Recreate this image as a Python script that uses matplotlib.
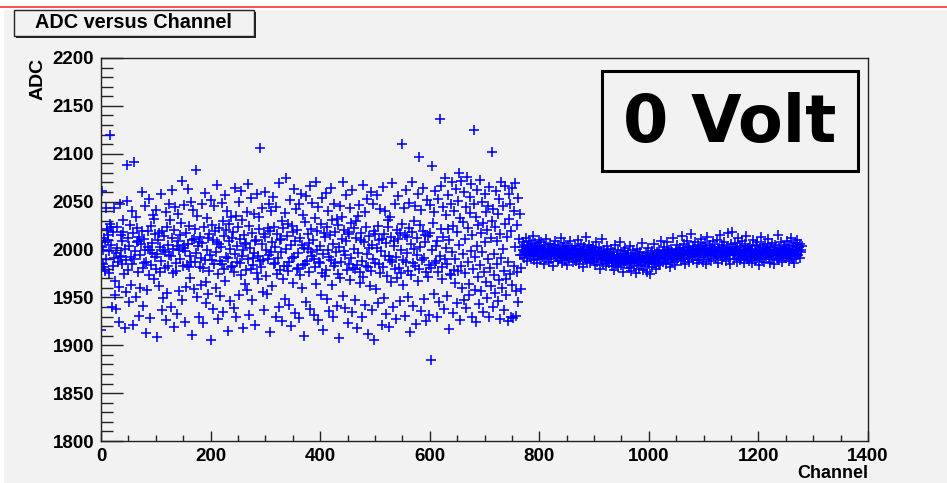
import numpy as np
import matplotlib.pyplot as plt
from matplotlib.patches import Rectangle
from matplotlib.ticker import MultipleLocator

# ADC readout per channel; the first block is the noisy region, the rest is the quiet region
adc_noisy = [
    1916, 2003, 2061, 1985, 2000, 1982, 2012, 2008, 1978, 2043, 1990, 2021, 2015, 2010, 1975, 1998, 2120, 2027, 2024, 2005, 1940, 1983, 2018, 1991,
    2043, 1967, 1952, 1996, 1938, 2024, 2002, 1987, 1924, 1961, 1992, 2047, 2015, 1993, 1985, 2009, 2031, 2018, 1974, 1918, 2001, 1989, 1956, 2051,
    2088, 2012, 1979, 1945, 2004, 2026, 1992, 1963, 2040, 1985, 1921, 2017, 2091, 1990, 1998, 1950, 2034, 2008, 2022, 1977, 2009, 1931, 2013, 1960,
    1994, 2006, 2060, 2019, 1981, 1941, 1986, 2011, 2045, 2000, 1913, 1987, 1958, 2019, 2003, 2053, 1973, 1999, 1928, 2025, 1984, 1996, 2007, 2036,
    2032, 1969, 2016, 1992, 1980, 2041, 1995, 1909, 2010, 2017, 1962, 1976, 2003, 2058, 1988, 1937, 2019, 2000, 1949, 2014, 1981, 1997, 1926, 2039,
    2023, 1955, 1983, 2005, 2048, 1994, 2031, 1940, 1993, 2012, 2062, 1975, 2001, 1919, 2020, 2044, 1978, 1986, 2004, 1933, 2009, 2037, 1999, 1957,
    1990, 2015, 2028, 2072, 1947, 1983, 2002, 2046, 2005, 1998, 1924, 2017, 1961, 1984, 2006, 2063, 1982, 2025, 1970, 1993, 2050, 1987, 1911, 2010,
    2041, 2011, 1959, 1987, 2021, 2083, 1996, 1950, 2035, 2004, 1930, 2008, 1982, 2013, 1963, 1991, 2047, 2007, 1923, 1981, 2024, 2059, 1989, 1944,
    1966, 2000, 2033, 2012, 1954, 1978, 2016, 1994, 1905, 2052, 2026, 1989, 2010, 1938, 1985, 2045, 2019, 1960, 1997, 2008, 2067, 1974, 1927, 2006,
    2022, 1951, 1988, 2003, 2049, 1985, 2030, 1935, 1980, 2014, 2057, 1967, 1992, 2020, 2040, 1915, 1991, 2009, 2027, 1946, 2001, 2034, 1982, 1983,
    2012, 2018, 1939, 1976, 2064, 1995, 2035, 1929, 2004, 1987, 2023, 2050, 1953, 1986, 2011, 2061, 1973, 1993, 2031, 1999, 1918, 2015, 2006, 1964,
    1979, 2007, 2039, 1958, 1990, 2068, 2025, 1932, 2002, 1980, 2054, 1947, 2017, 1984, 1991, 2037, 1996, 2009, 1921, 2010, 1975, 2058, 1993, 1969,
    2034, 2021, 1988, 2106, 1982, 2006, 2043, 1956, 1989, 2016, 1937, 2013, 2060, 1972, 2000, 1954, 2022, 1990, 2048, 1994, 1914, 2019, 2040, 1997,
    1962, 2008, 2055, 1985, 2024, 1986, 2003, 1930, 2044, 2016, 1974, 1991, 2069, 1940, 2010, 1979, 2011, 1997, 1925, 2030, 2022, 1969, 1983, 1948,
    2038, 2001, 2075, 1983, 2014, 1978, 2027, 1942, 1987, 2052, 2005, 1920, 1991, 2025, 2018, 1965, 2063, 1992, 2009, 1934, 2042, 1980, 2020, 1981,
    1996, 2047, 1928, 2012, 1973, 2058, 2005, 1960, 1984, 2036, 1910, 2002, 2029, 1985, 2056, 1945, 1988, 2016, 2001, 1976, 2007, 1938, 2066, 1997,
    2021, 1993, 2049, 2010, 1932, 1990, 2033, 1982, 2071, 1964, 1999, 2019, 1926, 2044, 1987, 2004, 1986, 2027, 1953, 2054, 1975, 1995, 1916, 2017,
    2013, 1972, 2059, 1979, 2023, 1948, 2000, 2040, 1936, 1992, 2015, 2064, 1989, 1963, 2031, 2006, 1930, 1983, 2048, 2018, 1986, 1997, 1941, 2032,
    2026, 1974, 2003, 1908, 2045, 1970, 1987, 2011, 2034, 2070, 1951, 1998, 2020, 1994, 1939, 2057, 2009, 1979, 2018, 1923, 1985, 2016, 2043, 1968,
    1991, 2028, 1935, 2062, 1981, 2001, 2022, 1947, 1980, 2030, 2012, 1918, 1984, 2035, 1996, 2046, 1965, 1977, 2017, 2010, 1929, 1988, 2067, 1971,
    2008, 2039, 1942, 1983, 2024, 1995, 2053, 1912, 1982, 2014, 2002, 1962, 1978, 2060, 2005, 1937, 1990, 2047, 2019, 1905, 1986, 2016, 1959, 2002,
    2057, 2025, 1944, 1985, 2010, 2042, 1975, 1998, 1921, 2011, 2065, 1982, 2016, 1949, 1993, 2040, 2007, 1933, 1972, 2031, 2023, 1993, 1919, 1989,
    2034, 2013, 1966, 2069, 1987, 1940, 2009, 2004, 1980, 2048, 1992, 1927, 2020, 1970, 2056, 2011, 1981, 1946, 2017, 2000, 1975, 2110, 2027, 1963,
    1989, 2043, 2015, 1931, 1987, 2062, 1996, 2013, 1950, 1978, 2022, 2049, 1914, 2006, 1973, 2071, 2018, 1986, 1941, 2001, 2030, 1983, 2045, 1922,
    1994, 2012, 2058, 1967, 1980, 2097, 2026, 2003, 1936, 2041, 1989, 2019, 2064, 1948, 1991, 2008, 2015, 1925, 1976, 2052, 2014, 1971, 1984, 1932,
    2046, 2017, 1981, 1885, 2087, 1999, 2028, 2039, 1954, 1986, 2061, 2004, 1988, 1929, 2009, 1977, 2053, 1945, 2136, 1993, 2021, 2066, 1969, 1982,
    2013, 2044, 1938, 1990, 2075, 2002, 2036, 1951, 1985, 2021, 2057, 1917, 2010, 1974, 2048, 1973, 1997, 2070, 1934, 2025, 1979, 2040, 1965, 1990,
    2063, 2018, 1944, 2051, 1978, 2005, 2080, 1926, 2033, 1983, 2072, 1960, 2029, 1995, 1947, 2060, 2011, 1975, 2044, 1939, 2076, 1987, 2022, 1964,
    1952, 2055, 2038, 1998, 2068, 1930, 2015, 1980, 2125, 2047, 1958, 1992, 2034, 1924, 2062, 2004, 1971, 2026, 1943, 2073, 1984, 2017, 1957, 1997,
    2050, 1935, 2028, 1976, 2058, 2008, 1966, 2039, 1949, 2020, 1990, 2045, 1929, 2065, 1981, 2012, 1962, 2030, 2102, 1940, 2042, 1973, 1995, 1955,
    2024, 2061, 1985, 2009, 1946, 2037, 1968, 2053, 1927, 2016, 1991, 2071, 1960, 2001, 2045, 1978, 1937, 2027, 2066, 1969, 1952, 2013, 1987, 1925,
    2058, 2032, 1974, 2048, 1930, 2019, 1963, 2064, 1928, 2040, 1983, 2003, 2069, 1957, 1931, 2026, 1976, 2054, 1945, 2011, 1994, 2037, 1959, 1981,
]

adc_quiet = [
    2003, 1994, 2008, 1999, 1991, 2005, 1997, 2012, 1996, 2001, 1988, 2004, 1995, 2009, 1999, 1993, 2006, 1990, 2002, 1997, 2014, 1995, 2000, 1989, 2007, 1998, 1993, 2004, 1986, 2001, 1996, 2010,
    1994, 2003, 1990, 1999, 2008, 1992, 1997, 2001, 1985, 2005, 1995, 1999, 2011, 1991, 1996, 2003, 1993, 1987, 2000, 1997, 2006, 1990, 1994, 2002, 1998, 1983, 2004, 1995, 1999, 2009, 1992, 1997,
    2001, 1993, 1988, 2005, 1996, 1991, 2000, 2012, 1994, 1986, 1998, 2003, 1992, 1996, 2007, 1989, 1995, 2001, 1984, 1997, 2004, 1993, 1999, 1990, 2009, 1995, 1992, 1998, 2002, 1987, 1996, 2000,
    1991, 2004, 1995, 1988, 1999, 1993, 2010, 1996, 1985, 2001, 1994, 1990, 2006, 1997, 1992, 1982, 1999, 1995, 2003, 1989, 1996, 2013, 1993, 1987, 2000, 1995, 1991, 2005, 1998, 1986, 1994, 2001,
    1990, 1996, 2003, 1988, 1993, 1999, 1984, 1995, 2008, 1991, 1987, 1997, 1993, 2002, 1980, 1994, 1990, 1998, 2011, 1989, 1993, 1985, 2000, 1995, 1991, 1996, 1983, 2004, 1992, 1988, 1997, 1994,
    1986, 1995, 1990, 2001, 1983, 1992, 1988, 1997, 1979, 1993, 2005, 1989, 1985, 1994, 1991, 1999, 1982, 1990, 1987, 2008, 1992, 1984, 1995, 1989, 1976, 1993, 1998, 1986, 1990, 2002, 1988, 1994,
    1985, 1991, 1996, 1981, 1989, 2004, 1987, 1993, 1978, 1990, 1986, 1999, 1992, 1983, 1988, 1995, 1975, 1991, 2001, 1986, 1989, 1994, 1980, 1990, 1997, 1984, 1988, 2007, 1992, 1979, 1987, 1993,
    1989, 1983, 1996, 1990, 1977, 1993, 1987, 2002, 1991, 1985, 1974, 1995, 1989, 1998, 1982, 1990, 1993, 1986, 2006, 1988, 1995, 1980, 1991, 1997, 1987, 1993, 1984, 1999, 1990, 1986, 2009, 1994,
    1992, 1998, 1987, 1995, 2003, 1990, 1996, 1985, 1993, 2008, 1997, 1989, 1994, 1999, 1982, 1995, 2001, 1991, 1987, 1997, 2012, 1993, 1990, 1996, 1984, 2000, 1994, 1989, 2005, 1995, 1991, 1998,
    1993, 2002, 1997, 1988, 2014, 1995, 1999, 1990, 2006, 1996, 1985, 2000, 1994, 2009, 1998, 1991, 1996, 2003, 1987, 1999, 1995, 2016, 1992, 1997, 2004, 1989, 1996, 2001, 1993, 2008, 1998, 1986,
    1999, 1994, 2005, 1997, 1989, 2002, 1996, 2011, 1993, 1999, 1987, 2004, 1998, 1992, 2007, 1996, 2001, 1985, 1997, 2013, 1994, 2000, 1990, 1998, 2005, 1995, 1988, 2002, 1997, 2009, 1993, 1999,
    1996, 2003, 1991, 1998, 2010, 1994, 1999, 1986, 2002, 1997, 2015, 1993, 1999, 1989, 2005, 1996, 1992, 2000, 2008, 1995, 1988, 1998, 2003, 1994, 2017, 1997, 1990, 2001, 1996, 1985, 2006, 1998,
    2018, 1995, 2001, 1990, 1997, 2007, 1994, 1999, 1987, 2003, 1996, 2012, 1993, 1998, 1989, 2004, 1997, 1991, 2009, 1995, 2000, 1986, 1998, 2006, 1993, 1999, 2014, 1996, 1990, 2002, 1997, 1988,
    1997, 2004, 1992, 1998, 1986, 2001, 1995, 2010, 1993, 1999, 1989, 2005, 1996, 1991, 2008, 1994, 1998, 1984, 2002, 1996, 2013, 1992, 1997, 1990, 2004, 1995, 1999, 1987, 2006, 1993, 1998, 2001,
    1994, 1999, 2011, 1992, 1997, 1986, 2003, 1995, 1990, 2007, 1996, 1993, 2000, 1985, 1998, 2005, 1994, 1999, 1991, 2015, 1996, 1989, 2002, 1997, 1993, 2008, 1995, 1987, 2001, 1998, 1992, 2004,
    1996, 2002, 1991, 1999, 2009, 1994, 1997, 1988, 2005, 1998, 1993, 2012, 1996, 2000, 1990, 2004, 1997, 1986, 2007, 1995, 2001, 1992, 1999, 2010, 1994, 1998, 2003, 1991, 2006, 1997, 2000, 2004,
]

adc = np.array(adc_noisy + adc_quiet)
channel = np.arange(len(adc))

W, H = 947, 483
bg = "#f2f2f2"
bold = {"family": "Liberation Sans", "weight": "bold"}


def px_box(x0, y0, x1, y1):
    """Figure-fraction rectangle (left, bottom, width, height) from pixel corners."""
    return x0 / W, 1 - y1 / H, (x1 - x0) / W, (y1 - y0) / H


fig = plt.figure(figsize=(W / 100, H / 100), dpi=100, facecolor=bg)

# canvas border: white strip with a red line along the top, white strip on the left
fig.patches.append(Rectangle(px_box(0, 0, W, 10)[:2], 1, 10 / H, transform=fig.transFigure,
                             facecolor="white", edgecolor="none", zorder=0))
fig.patches.append(Rectangle((0, 0), 4 / W, 1, transform=fig.transFigure,
                             facecolor="white", edgecolor="none", zorder=0))
fig.lines.append(plt.Line2D([0, 1], [1 - 6.5 / H] * 2, transform=fig.transFigure,
                            color="#ff3030", lw=1.2))

ax = fig.add_axes(px_box(101, 58, 868, 441))
ax.set_facecolor(bg)
ax.plot(channel, adc, linestyle="none", marker="+", color="blue",
        markersize=7.5, markeredgewidth=1.15)

ax.set_xlim(0, 1400)
ax.set_ylim(1800, 2200)
ax.xaxis.set_major_locator(MultipleLocator(200))
ax.xaxis.set_minor_locator(MultipleLocator(50))
ax.yaxis.set_major_locator(MultipleLocator(50))
ax.yaxis.set_minor_locator(MultipleLocator(10))

for s in ax.spines.values():
    s.set_linewidth(1.0)
    s.set_color("#222222")

ax.tick_params(axis="both", which="both", direction="in", top=False, right=False,
               color="#222222", width=1.0)
ax.tick_params(axis="y", which="major", length=16, pad=5)
ax.tick_params(axis="y", which="minor", length=8.5)
ax.tick_params(axis="x", which="major", length=7, pad=5)
ax.tick_params(axis="x", which="minor", length=4.3)
for lab in ax.get_xticklabels() + ax.get_yticklabels():
    lab.set_fontfamily("Liberation Sans")
    lab.set_fontweight("bold")
    lab.set_fontsize(13.5)

# axis titles sit at the far ends of the axes
fig.text(38 / W, 1 - 58 / H, "ADC", rotation=90, ha="center", va="top",
         fontsize=14, **bold)
fig.text(868 / W, 1 - 474 / H, "Channel", ha="right", va="center",
         fontsize=13, **bold)

# title box with a drop shadow on the right and bottom
x, y, w, h = px_box(14, 10, 254, 36)
fig.patches.append(Rectangle((x + 2 / W, y - 2 / H), w, h, transform=fig.transFigure,
                             facecolor="#222222", edgecolor="none", zorder=2))
fig.patches.append(Rectangle((x, y), w, h, transform=fig.transFigure, facecolor=bg,
                             edgecolor="#222222", lw=1.0, zorder=3))
fig.text(133 / W, 1 - 23 / H, "ADC versus Channel", ha="center", va="center",
         fontsize=14.3, zorder=4, **bold)

# "0 Volt" label box
x, y, w, h = px_box(602, 71, 858, 171)
fig.patches.append(Rectangle((x, y), w, h, transform=fig.transFigure, facecolor=bg,
                             edgecolor="black", lw=2.2, zorder=3))
fig.text(730 / W, 1 - 124 / H, "0 Volt", ha="center", va="center", fontsize=47,
         fontweight="bold", family="DejaVu Sans", zorder=4)

fig.savefig("out.png", dpi=100, facecolor=bg)
